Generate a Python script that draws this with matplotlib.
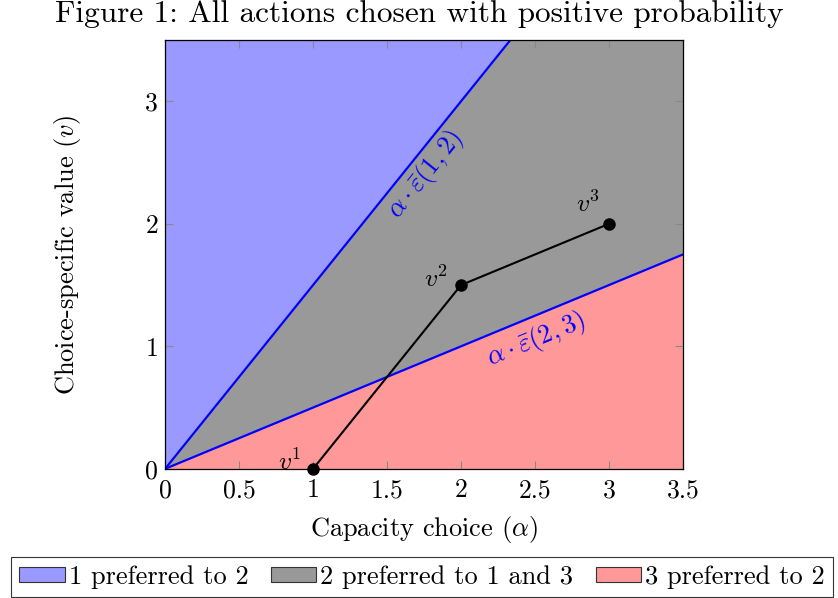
import numpy as np
import matplotlib
matplotlib.use('Agg')
import matplotlib.pyplot as plt
from matplotlib.patches import Patch

plt.rcParams['font.family'] = 'serif'
plt.rcParams['font.serif'] = ['cmr10']
plt.rcParams['mathtext.fontset'] = 'cm'
plt.rcParams['axes.formatter.use_mathtext'] = True
plt.rcParams['axes.unicode_minus'] = False

# thresholds alpha * eps_bar(i, j)
slope_12 = 1.5
slope_23 = 0.5

# choice-specific values
alpha_pts = [1, 2, 3]
v_pts = [0, 1.5, 2]
v_names = [r'$v^1$', r'$v^2$', r'$v^3$']

x_ticks = [0, 0.5, 1, 1.5, 2, 2.5, 3, 3.5]
y_ticks = [0, 1, 2, 3]
x_max = 3.5
y_max = 3.5

legend_labels = ['1 preferred to 2', '2 preferred to 1 and 3', '3 preferred to 2']
fill_colors = ['#9999ff', '#999999', '#ff9999']

fig = plt.figure(figsize=(8.38, 5.98), dpi=100)
ax = fig.add_axes([0.197, 0.216, 0.618, 0.717])

xs = np.linspace(0, x_max, 400)
upper = np.minimum(slope_12 * xs, y_max)
lower = slope_23 * xs
ax.fill_between(xs, upper, y_max, color=fill_colors[0], lw=0)
ax.fill_between(xs, lower, upper, color=fill_colors[1], lw=0)
ax.fill_between(xs, 0, lower, color=fill_colors[2], lw=0)

ax.plot(xs, slope_12 * xs, color='#0000ff', lw=1.6)
ax.plot(xs, slope_23 * xs, color='#0000ff', lw=1.6)

ax.plot(alpha_pts, v_pts, color='black', lw=1.5, marker='o', ms=8, clip_on=False, zorder=5)

offsets = [(-0.16, 0.06), (-0.17, 0.05), (-0.14, 0.16)]
for a, v, name, off in zip(alpha_pts, v_pts, v_names, offsets):
    ax.text(a + off[0], v + off[1], name, fontsize=18.5, ha='center', va='center')

ax.text(1.757, 2.40, r'$\alpha\cdot\bar{\varepsilon}(1,2)$', color='#0000ff',
        fontsize=19, rotation=51.3, ha='center', va='center', rotation_mode='anchor')
ax.text(2.51, 1.05, r'$\alpha\cdot\bar{\varepsilon}(2,3)$', color='#0000ff',
        fontsize=19, rotation=22.5, ha='center', va='center', rotation_mode='anchor')

ax.set_xlim(0, x_max)
ax.set_ylim(0, y_max)
ax.set_xticks(x_ticks)
ax.set_xticklabels([('%g' % t) for t in x_ticks])
ax.set_yticks(y_ticks)
ax.set_yticklabels([str(t) for t in y_ticks])
ax.tick_params(direction='in', top=True, right=True, length=6, width=0.8,
               color='#888888', labelsize=18.5)
ax.tick_params(axis='x', pad=7)
ax.tick_params(axis='y', pad=5)
for s in ax.spines.values():
    s.set_linewidth(0.9)

ax.set_xlabel(r'Capacity choice ($\alpha$)', fontsize=19)
ax.set_ylabel(r'Choice-specific value ($v$)', fontsize=19)
ax.xaxis.set_label_coords(0.5, -0.105)
ax.yaxis.set_label_coords(-0.158, 0.5)
fig.suptitle('Figure 1: All actions chosen with positive probability', fontsize=22.5, y=1.0)

handles = [Patch(facecolor=c, edgecolor='#333333', lw=0.8) for c in fill_colors]
leg = fig.legend(handles, legend_labels, loc='lower center', ncol=3,
                 bbox_to_anchor=(0.5036, 0.0),
                 fontsize=19, frameon=True, fancybox=False, edgecolor='black',
                 handlelength=1.72, handleheight=0.5, handletextpad=0.15,
                 columnspacing=0.85, borderpad=0.3, borderaxespad=0.05)
leg.get_frame().set_linewidth(0.8)

fig.savefig('out.png', dpi=100)
